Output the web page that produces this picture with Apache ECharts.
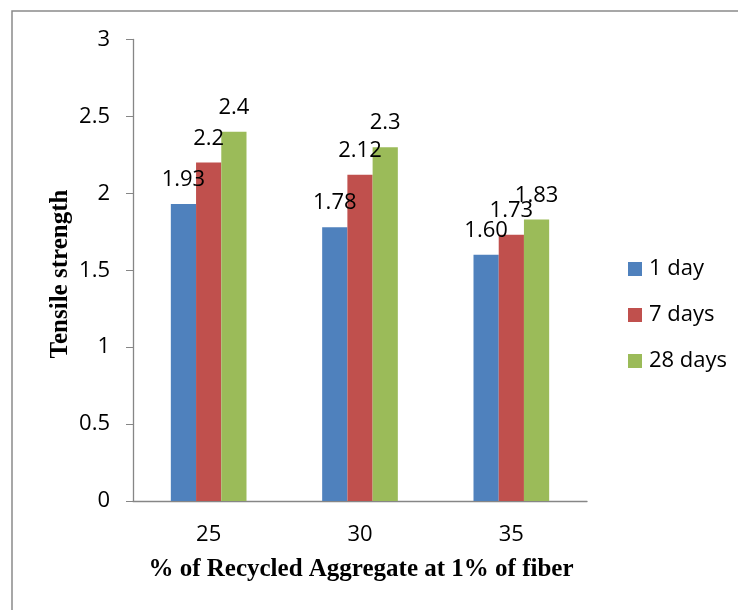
<!DOCTYPE html>
<html>
<head>
<meta charset="utf-8">
<script src="https://cdn.jsdelivr.net/npm/echarts@6/dist/echarts.min.js"></script>
<style>
html,body{margin:0;padding:0;background:#fff;}
#chart{width:738px;height:610px;}
</style>
</head>
<body>
<div id="chart"></div>
<script>
var categories = ['25', '30', '35'];
var seriesNames = ['1 day', '7 days', '28 days'];
var day1 = [1.93, 1.78, 1.60];
var day7 = [2.2, 2.12, 1.73];
var day28 = [2.4, 2.3, 1.83];
var day1Labels = ['1.93', '1.78', '1.60'];
var day7Labels = ['2.2', '2.12', '1.73'];
var day28Labels = ['2.4', '2.3', '1.83'];
var yTicks = [0, 0.5, 1, 1.5, 2, 2.5, 3];

var colors = ['#4F81BD', '#C0504D', '#9BBB59'];
var labelFont = 'Open Sans';
var fs = 22;

function mk(name, data, labels, color) {
  return {
    name: name,
    type: 'bar',
    data: data,
    barGap: '0%',
    barCategoryGap: '50%',
    itemStyle: {color: color},
    label: {
      show: true,
      position: 'top',
      distance: 13,
      fontFamily: labelFont,
      fontSize: fs,
      color: '#000',
      formatter: function (p) { return labels[p.dataIndex]; }
    }
  };
}

var chart = echarts.init(document.getElementById('chart'), null, {renderer: 'canvas'});
chart.setOption({
  animation: false,
  backgroundColor: '#fff',
  graphic: [{
    type: 'rect',
    x: 12, y: 11,
    shape: {x: 0, y: 0, width: 800, height: 700},
    style: {fill: 'none', stroke: '#8a8a8a', lineWidth: 1.5},
    silent: true
  }, {
    type: 'text',
    x: 361, y: 570,
    style: {
      text: '% of Recycled Aggregate at 1% of fiber',
      font: 'bold 25px "Liberation Serif"',
      fill: '#000',
      x: 0, y: 0, textAlign: 'center', textVerticalAlign: 'middle'
    }
  }, {
    type: 'text',
    rotation: Math.PI / 2,
    x: 61, y: 274,
    style: {
      text: 'Tensile strength',
      font: 'bold 25px "Liberation Serif"',
      fill: '#000',
      x: 0, y: 0, textAlign: 'center', textVerticalAlign: 'middle'
    }
  }],
  grid: {left: 133, top: 39.5, right: 151, bottom: 109, containLabel: false},
  legend: {
    orient: 'vertical',
    left: 628, top: 258,
    padding: 0,
    itemWidth: 14, itemHeight: 14, itemGap: 24,
    icon: 'rect',
    textStyle: {fontFamily: labelFont, fontSize: fs, color: '#000', padding: [0, 0, 0, 2]},
    data: seriesNames
  },
  xAxis: {
    type: 'category',
    data: categories,
    axisLine: {show: true, lineStyle: {color: '#868686', width: 1.3}},
    axisTick: {show: false},
    axisLabel: {fontFamily: labelFont, fontSize: fs, color: '#000', margin: 23},
    splitLine: {show: false}
  },
  yAxis: {
    type: 'value',
    min: yTicks[0], max: yTicks[yTicks.length - 1], interval: 0.5,
    axisLine: {show: true, lineStyle: {color: '#868686', width: 1.3}},
    axisTick: {show: true, length: 7, lineStyle: {color: '#868686'}},
    axisLabel: {fontFamily: labelFont, fontSize: fs, color: '#000', margin: 23},
    splitLine: {show: false}
  },
  series: [
    mk(seriesNames[0], day1, day1Labels, colors[0]),
    mk(seriesNames[1], day7, day7Labels, colors[1]),
    mk(seriesNames[2], day28, day28Labels, colors[2])
  ]
});
</script>
</body>
</html>
